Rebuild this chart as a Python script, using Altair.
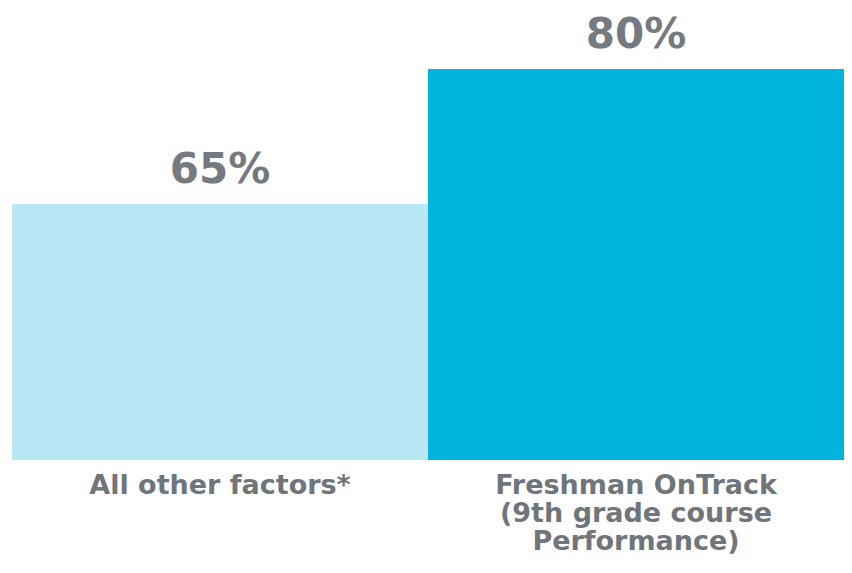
import altair as alt
import pandas as pd

categories = ["All other factors*", "Freshman OnTrack\n(9th grade course\nPerformance)"]
values = [65, 80]
value_labels = ["65%", "80%"]
bar_colors = ["#b9e7f5", "#00b5dd"]

df = pd.DataFrame({
    "cat": categories,
    "value": values,
    "label": value_labels,
    "color": bar_colors,
})

x = alt.X("cat:N", sort=categories, axis=None,
          scale=alt.Scale(paddingInner=0, paddingOuter=0))
y = alt.Y("value:Q", axis=None,
          scale=alt.Scale(domain=[36.56, 86.78], zero=False, nice=False))

bars = alt.Chart(df).mark_bar(clip=True).encode(
    x=x, y=y, color=alt.Color("color:N", scale=None)
)

vals = alt.Chart(df).mark_text(
    font="DejaVu Sans", fontWeight="bold", fontSize=42, color="#747a80",
    baseline="alphabetic", align="center", dy=-21
).encode(x=x, y=y, text="label:N")

cats = alt.Chart(df).mark_text(
    font="DejaVu Sans", fontWeight="bold", fontSize=27, color="#6f757b",
    baseline="top", align="center", lineBreak="\n", lineHeight=28
).encode(x=x, y=alt.value(465), text="cat:N")

chart = alt.layer(bars, vals, cats).properties(
    width=832, height=452,
    autosize=alt.AutoSizeParams(type="none"),
    padding={"left": 4, "top": 0, "right": 0, "bottom": 99},
).configure(background="white", view=alt.ViewConfig(stroke=None))

chart.save("out.html", embed_options={"renderer": "svg", "actions": False})
